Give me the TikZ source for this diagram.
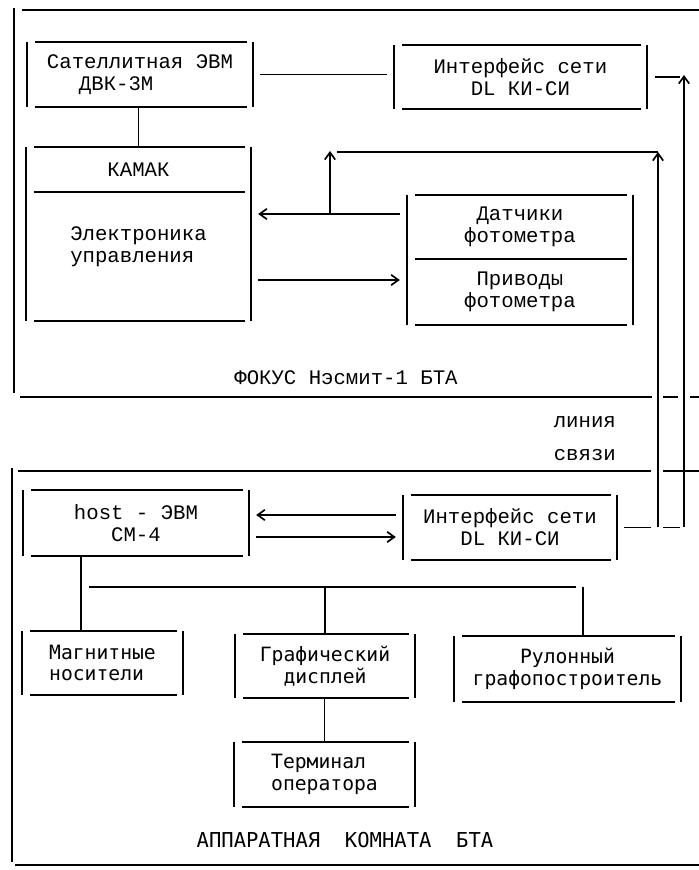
\documentclass[tikz,border=0pt]{standalone}
\usepackage{fontspec}
\newfontfamily\monofamily{Liberation Mono}
\newfontfamily\sansmonofamily{DejaVu Sans Mono}
\newcommand{\typetext}{\monofamily\fontsize{14.7}{15.6}\selectfont}
\newcommand{\plottext}{\sansmonofamily\fontsize{14}{15.4}\selectfont}
\newcommand{\roomtext}{\sansmonofamily\fontsize{14.6}{16}\selectfont}
\usetikzlibrary{arrows.meta, calc}

\begin{document}
\begin{tikzpicture}[line width=1.2pt,
  obox/.style={inner sep=0pt, outer sep=0pt, align=center, font=\typetext,
    append after command={\pgfextra{\let\obxnode\tikzlastnode
      \begin{pgfinterruptpath}
      \draw ([xshift=0.2cm]\obxnode.north west) -- ([xshift=-0.15cm]\obxnode.north east)
            ([xshift=0.2cm]\obxnode.south west) -- ([xshift=-0.15cm]\obxnode.south east)
            (\obxnode.north west) -- (\obxnode.south west)
            (\obxnode.north east) -- (\obxnode.south east);
      \end{pgfinterruptpath}}}},
  pbox/.style={obox, font=\plottext},
  txt/.style={inner sep=0pt, align=center, font=\typetext},
  link/.style={shorten <=0.18cm, shorten >=0.18cm},
  arrow/.style={-{Straight Barb[length=1.8mm, width=2.6mm]}}
]
\useasboundingbox (0,0) rectangle (17.475,21.75);

% frames
\draw (0.35,21.55) -- (0.35,11.925);
\draw (0.55,21.5) -- (17.475,21.5);
\draw (0.5,11.825) -- (16.3,11.825) (16.575,11.825) -- (16.95,11.825) (17.25,11.825) -- (17.475,11.825);
\draw (0.45,9.975) -- (16.275,9.975) (16.575,9.975) -- (17.475,9.975);
\draw (0.3,10.05) -- (0.3,0.2);
\draw (0.375,0.125) -- (17.475,0.125);

% focus (top)
\node[obox, align=left, minimum width=5.65cm, minimum height=1.625cm] (sat) at (3.5,19.89) {Сателлитная ЭВМ\\\hspace*{0.8cm}ДВК-3М};
\node[obox, minimum width=6.325cm, minimum height=1.6cm] (ifup) at (13.01,19.825) {Интерфейс сети\\DL КИ-СИ};
\node[obox, minimum width=5.625cm, minimum height=1.125cm] (camac) at (3.4625,17.5125) {КАМАК};
\node[obox, minimum width=5.625cm, minimum height=3.225cm] (ctrl) at (3.4625,15.3375) {};
\node[txt, align=left] (ctrltext) at ([yshift=0.24cm]ctrl.center) {Электроника\\управления};
\node[obox, minimum width=5.65cm, minimum height=1.6cm] (sens) at (13.0,16.075) {Датчики\\фотометра};
\node[obox, minimum width=5.65cm, minimum height=1.65cm] (drive) at (13.0,14.45) {Приводы\\фотометра};
\node[txt] (focus) at (8.65,12.3) {ФОКУС Нэсмит-1 БТА};

\draw[link] (sat.east) -- (sat.east -| ifup.west);
\draw (camac.north) -- (camac.north |- sat.south);

\coordinate (sensout) at ([yshift=0.325cm]sens.west);
\coordinate (drivein) at ([yshift=0.3cm]drive.west);
\coordinate (fork) at (8.25,16.4);
\coordinate (forktop) at (8.25,17.975);
\coordinate (feed) at (8.425,17.95);
\coordinate (top1) at (16.45,17.95);
\coordinate (top2) at (17.1,19.875);

\draw[arrow, link] (sensout) -- (sensout -| ctrl.east);
\draw[arrow, link] (drivein -| ctrl.east) -- (drivein);
\draw[arrow] (fork) -- (forktop);
\draw (feed) -- (top1);
\draw[shorten <=0.2cm, shorten >=0.1cm] (ifup.east) -- (ifup.east -| top2);

% link line
\node[txt, anchor=west] (line1) at (13.825,11.2) {линия};
\node[txt, anchor=west] (line2) at (13.825,10.375) {связи};

% apparatus room (bottom)
\node[obox, minimum width=5.65cm, minimum height=1.65cm] (host) at (3.4,8.675) {host - ЭВМ\\СМ-4};
\node[obox, minimum width=5.35cm, minimum height=1.625cm] (iflow) at (12.75,8.5625) {Интерфейс сети\\DL КИ-СИ};
\node[pbox, align=left, minimum width=4.025cm, minimum height=1.6cm] (magn) at (2.5625,5.175) {Магнитные\\носители};
\node[pbox, minimum width=4.5cm, minimum height=1.6cm] (graph) at (8.125,5.1) {Графический\\дисплей};
\node[pbox, minimum width=5.675cm, minimum height=1.65cm] (plot) at (14.1875,5.025) {Рулонный\\графопостроитель};
\node[pbox, align=left, minimum width=4.525cm, minimum height=1.625cm] (term) at (8.1125,2.3875) {Терминал\\оператора};
\node[txt, font=\roomtext] (room) at (8.625,0.75) {АППАРАТНАЯ\ \ КОМНАТА\ \ БТА};

\coordinate (hostin) at ([yshift=0.3125cm]iflow.west);
\coordinate (hostout) at ([yshift=-0.2375cm]iflow.west);
\coordinate (rise1) at (iflow.east -| top1);
\coordinate (rise2) at (iflow.east -| top2);

\draw[arrow, link] (hostin) -- (hostin -| host.east);
\draw[arrow, link] (hostout -| host.east) -- (hostout);
\draw[link] (iflow.east) -- (rise1);
\draw[shorten <=0.13cm, shorten >=0.1cm] (rise1) -- (rise2);
\draw[arrow] (rise1) -- (top1);
\draw[arrow] (rise2) -- (top2);

\coordinate (hostdrop) at ([xshift=-1.375cm]host.south);
\coordinate (busL) at (2.225,7.075);
\coordinate (busR) at (14.4,7.075);
\coordinate (plotdrop) at ([xshift=0.3875cm]plot.north);

\draw (hostdrop) -- (hostdrop |- magn.north);
\draw (busL) -- (busR);
\draw (graph.north) -- (graph.north |- busL);
\draw (plotdrop) -- (plotdrop |- busR);
\draw (term.north) -- (term.north |- graph.south);
\end{tikzpicture}
\end{document}
